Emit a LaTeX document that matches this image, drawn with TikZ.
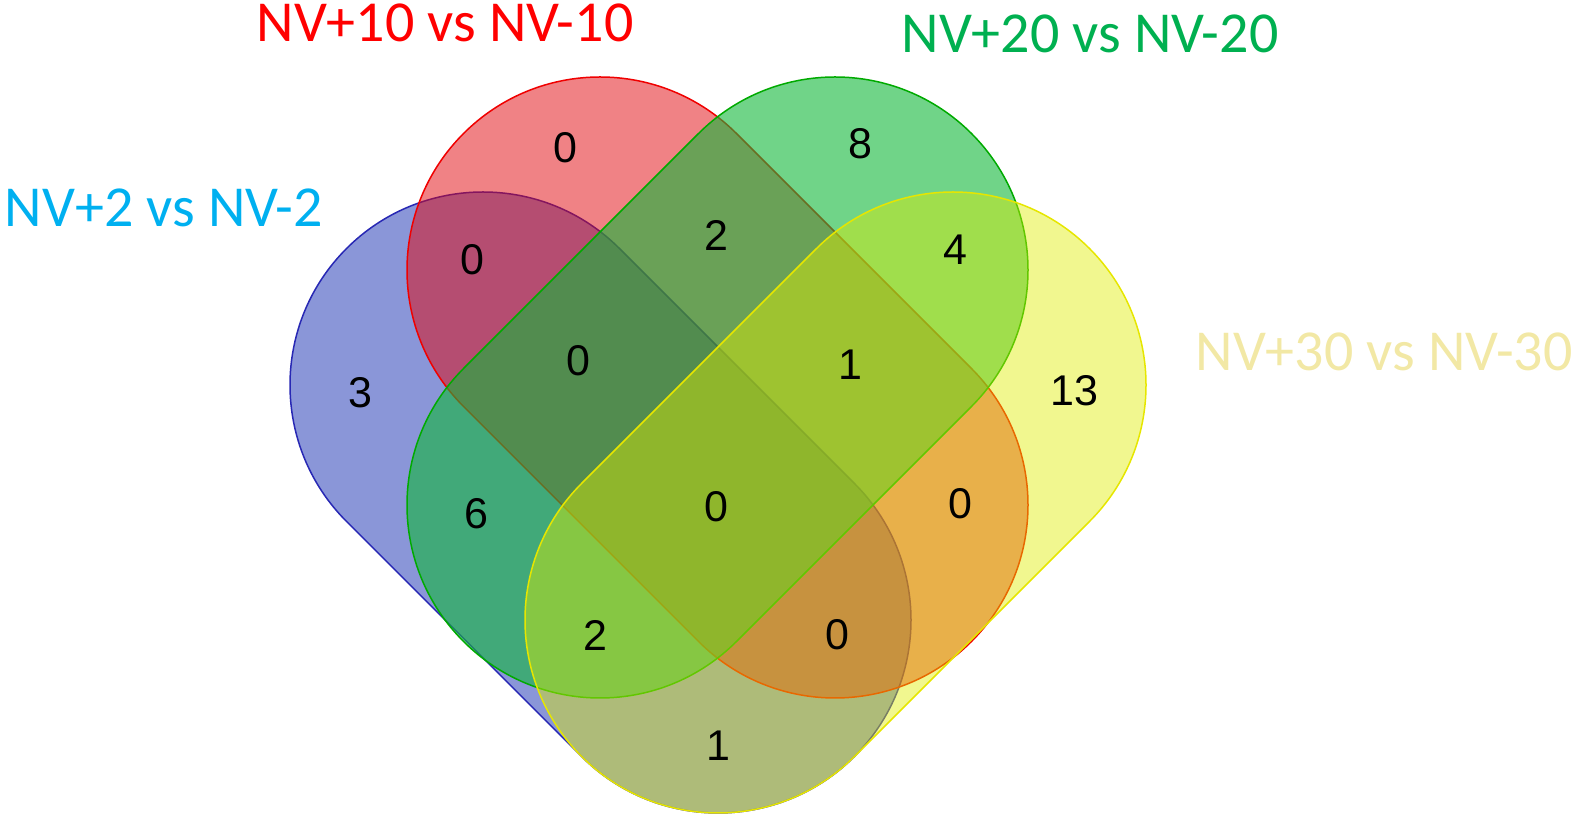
\documentclass[tikz,border=0pt]{standalone}
\usepackage{fontspec}
\setmainfont{Liberation Sans}
\newfontfamily\labfont{Carlito}
\usetikzlibrary{calc}
\definecolor{bfill}{RGB}{21,45,177}
\definecolor{rfill}{RGB}{225,5,11}
\definecolor{gfill}{RGB}{17,183,57}
\definecolor{yfill}{RGB}{223,237,0}
\definecolor{bline}{RGB}{40,40,180}
\definecolor{rline}{RGB}{240,0,0}
\definecolor{gline}{RGB}{0,170,0}
\definecolor{yline}{RGB}{230,230,0}
\definecolor{lblblue}{RGB}{0,176,240}
\definecolor{lblred}{RGB}{255,0,0}
\definecolor{lblgreen}{RGB}{0,176,80}
\definecolor{lblyellow}{RGB}{242,232,165}
\tikzset{
  setshape/.style={draw opacity=1, line width=1.5pt},
  num/.style={font=\fontsize{43}{43}\selectfont, text=black, inner sep=0pt},
  lbl/.style={font=\labfont\fontsize{58}{58}\selectfont, inner sep=0pt, anchor=base}
}
\begin{document}
\begin{tikzpicture}[x=1pt,y=1pt]
\useasboundingbox (0,0) rectangle (1581,824);
% centres of the stadium ends
\coordinate (bA) at (483,439);
\coordinate (bB) at (718,204);
\coordinate (rA) at (600,554);
\coordinate (rB) at (835,319);
\coordinate (gA) at (835,554);
\coordinate (gB) at (600,319);
\coordinate (yA) at (953,439);
\coordinate (yB) at (718,204);
% blue
\path[setshape, fill=bfill, fill opacity=0.5, draw=bline]
  ($(bA)+(45:193)$) -- ($(bB)+(45:193)$) arc[start angle=45,end angle=-135,radius=193]
  -- ($(bA)+(-135:193)$) arc[start angle=-135,end angle=-315,radius=193] -- cycle;
% red
\path[setshape, fill=rfill, fill opacity=0.5, draw=rline]
  ($(rA)+(45:193)$) -- ($(rB)+(45:193)$) arc[start angle=45,end angle=-135,radius=193]
  -- ($(rA)+(-135:193)$) arc[start angle=-135,end angle=-315,radius=193] -- cycle;
% green
\path[setshape, fill=gfill, fill opacity=0.6, draw=gline]
  ($(gA)+(-45:193)$) -- ($(gB)+(-45:193)$) arc[start angle=-45,end angle=-225,radius=193]
  -- ($(gA)+(-225:193)$) arc[start angle=-225,end angle=-405,radius=193] -- cycle;
% yellow
\path[setshape, fill=yfill, fill opacity=0.44, draw=yline]
  ($(yA)+(-45:193)$) -- ($(yB)+(-45:193)$) arc[start angle=-45,end angle=-225,radius=193]
  -- ($(yA)+(-225:193)$) arc[start angle=-225,end angle=-405,radius=193] -- cycle;
% counts
\node[num] (n1) at (360,431) {3};
\node[num] (n2) at (565,676) {0};
\node[num] (n3) at (860,680) {8};
\node[num] (n4) at (1074,433) {13};
\node[num] (n5) at (472,564) {0};
\node[num] (n6) at (716,589) {2};
\node[num] (n7) at (955,574) {4};
\node[num] (n8) at (578,463) {0};
\node[num] (n9) at (850,459) {1};
\node[num] (n10) at (476,310) {6};
\node[num] (n11) at (716,317) {0};
\node[num] (n12) at (960,320) {0};
\node[num] (n13) at (595,189) {2};
\node[num] (n14) at (837,189) {0};
\node[num] (n15) at (718,78) {1};
% labels
\node[lbl, text=lblred] (l10) at (445,782) {NV+10 vs NV-10};
\node[lbl, text=lblgreen] (l20) at (1090,771) {NV+20 vs NV-20};
\node[lbl, text=lblblue] (l2) at (164,597) {NV+2 vs NV-2};
\node[lbl, text=lblyellow] (l30) at (1384,453) {NV+30 vs NV-30};
\end{tikzpicture}
\end{document}
